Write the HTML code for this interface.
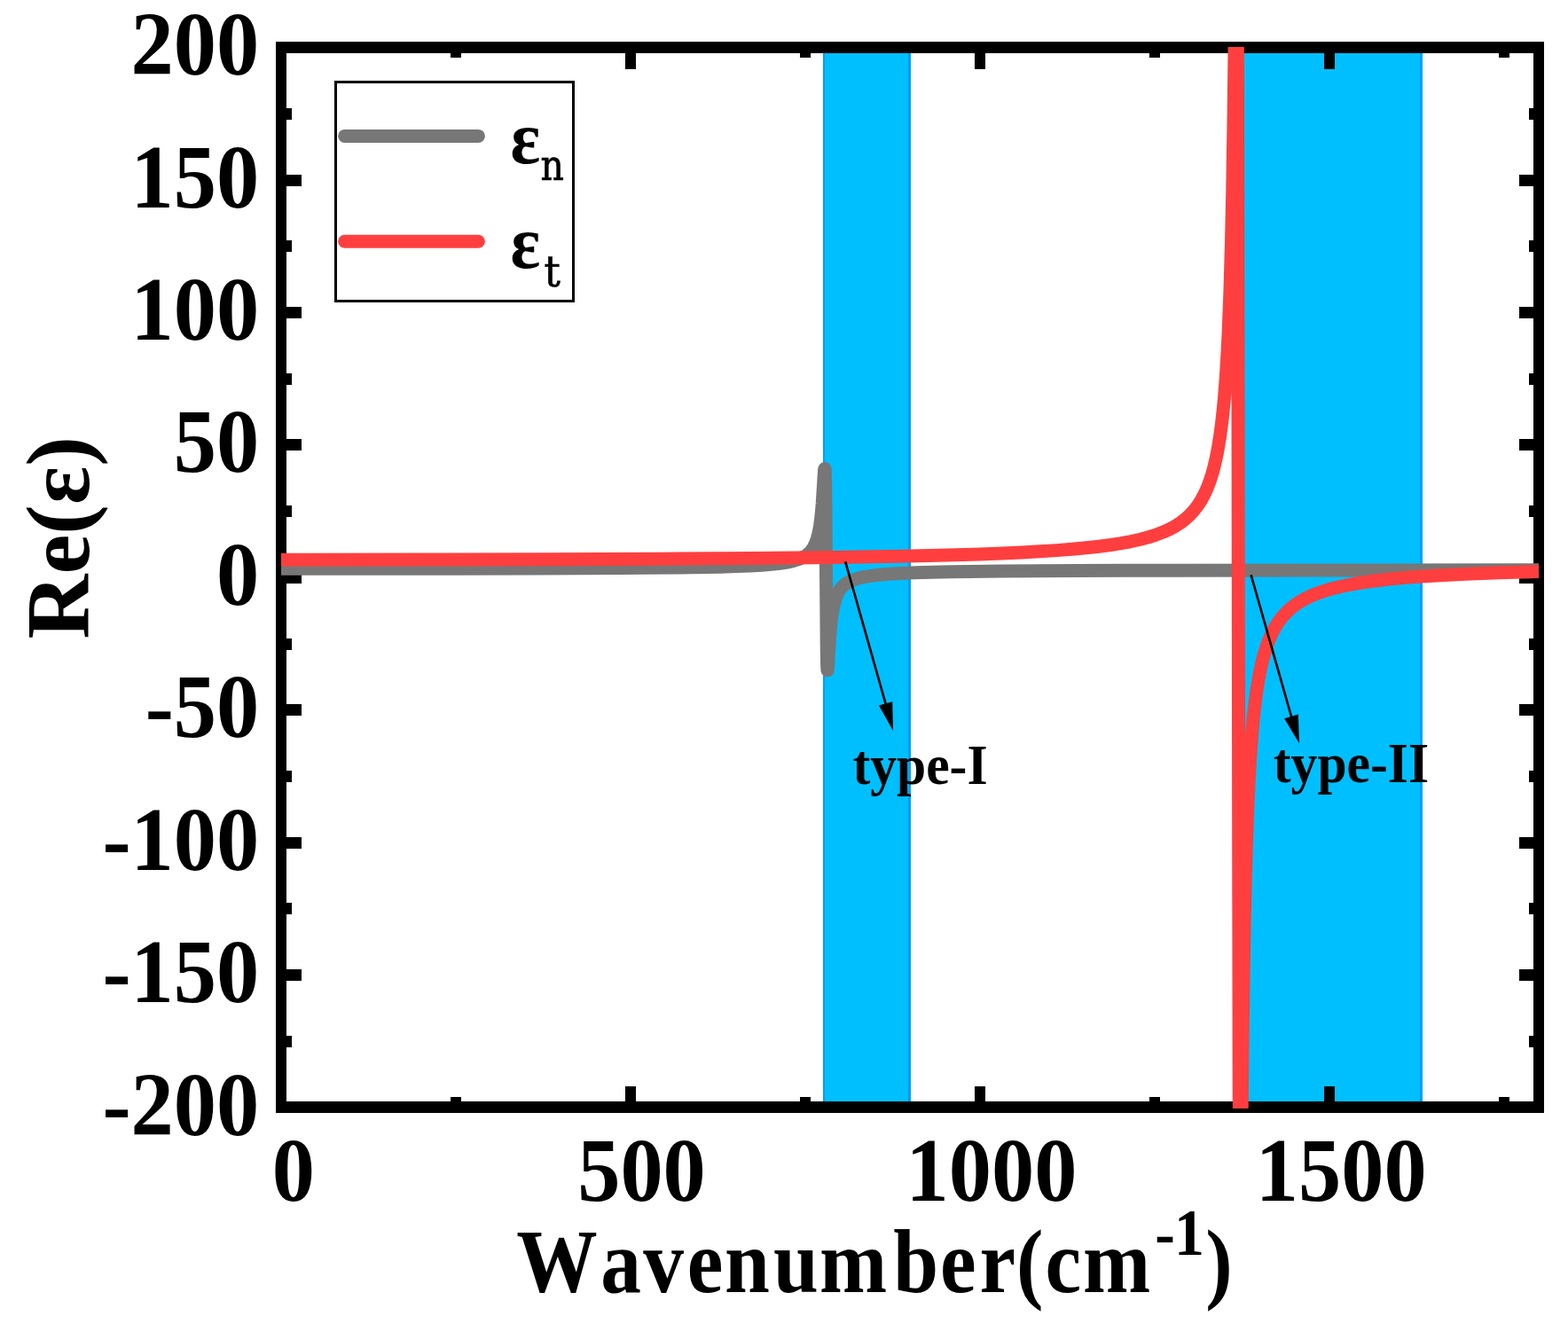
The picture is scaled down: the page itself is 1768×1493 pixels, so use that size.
<!DOCTYPE html>
<html><head><meta charset="utf-8"><title>Re(ε) vs Wavenumber</title>
<style>html,body{margin:0;padding:0;background:#fff;}body{width:1768px;height:1493px;overflow:hidden;}svg{display:block;}</style>
</head><body><svg width="1768" height="1493" viewBox="0 0 1768 1493" font-family="'Liberation Serif','Times New Roman',serif"><rect x="928" y="60" width="99" height="1182" fill="#00BFFF"/><rect x="928" y="60" width="2" height="1182" fill="#009EFF"/><rect x="1024" y="60" width="3" height="1182" fill="#009EFF"/><rect x="1394" y="60" width="210" height="1182" fill="#00BFFF"/><rect x="1394" y="60" width="2" height="1182" fill="#009EFF"/><rect x="1601" y="60" width="3" height="1182" fill="#009EFF"/><rect x="311" y="47" width="1430" height="13" fill="#000"/><rect x="311" y="1242" width="1430" height="13" fill="#000"/><rect x="311" y="47" width="12" height="1208" fill="#000"/><rect x="1729" y="47" width="12" height="1208" fill="#000"/><rect x="508" y="1237" width="12" height="5" fill="#000"/><rect x="508" y="60" width="12" height="5" fill="#000"/><rect x="705" y="1225" width="12" height="17" fill="#000"/><rect x="705" y="60" width="12" height="18" fill="#000"/><rect x="902" y="1237" width="12" height="5" fill="#000"/><rect x="902" y="60" width="12" height="5" fill="#000"/><rect x="1099" y="1225" width="12" height="17" fill="#000"/><rect x="1099" y="60" width="12" height="18" fill="#000"/><rect x="1296" y="1237" width="12" height="5" fill="#000"/><rect x="1296" y="60" width="12" height="5" fill="#000"/><rect x="1493" y="1225" width="12" height="17" fill="#000"/><rect x="1493" y="60" width="12" height="18" fill="#000"/><rect x="1690" y="1237" width="12" height="5" fill="#000"/><rect x="1690" y="60" width="12" height="5" fill="#000"/><rect x="323" y="1168" width="6" height="13" fill="#000"/><rect x="1724" y="1168" width="5" height="13" fill="#000"/><rect x="323" y="1093" width="17" height="13" fill="#000"/><rect x="1713" y="1093" width="16" height="13" fill="#000"/><rect x="323" y="1018" width="6" height="13" fill="#000"/><rect x="1724" y="1018" width="5" height="13" fill="#000"/><rect x="323" y="944" width="17" height="13" fill="#000"/><rect x="1713" y="944" width="16" height="13" fill="#000"/><rect x="323" y="869" width="6" height="13" fill="#000"/><rect x="1724" y="869" width="5" height="13" fill="#000"/><rect x="323" y="794" width="17" height="13" fill="#000"/><rect x="1713" y="794" width="16" height="13" fill="#000"/><rect x="323" y="720" width="6" height="13" fill="#000"/><rect x="1724" y="720" width="5" height="13" fill="#000"/><rect x="323" y="645" width="17" height="13" fill="#000"/><rect x="1713" y="645" width="16" height="13" fill="#000"/><rect x="323" y="570" width="6" height="13" fill="#000"/><rect x="1724" y="570" width="5" height="13" fill="#000"/><rect x="323" y="495" width="17" height="13" fill="#000"/><rect x="1713" y="495" width="16" height="13" fill="#000"/><rect x="323" y="421" width="6" height="13" fill="#000"/><rect x="1724" y="421" width="5" height="13" fill="#000"/><rect x="323" y="346" width="17" height="13" fill="#000"/><rect x="1713" y="346" width="16" height="13" fill="#000"/><rect x="323" y="271" width="6" height="13" fill="#000"/><rect x="1724" y="271" width="5" height="13" fill="#000"/><rect x="323" y="197" width="17" height="13" fill="#000"/><rect x="1713" y="197" width="16" height="13" fill="#000"/><rect x="323" y="122" width="6" height="13" fill="#000"/><rect x="1724" y="122" width="5" height="13" fill="#000"/><defs><clipPath id="pc"><rect x="317.0" y="53.0" width="1419.0" height="1197.0"/></clipPath></defs><g clip-path="url(#pc)" fill="none" stroke-width="15" stroke-linejoin="round" stroke-linecap="butt"><path d="M317.00,641.32 L478.85,641.23 L607.30,640.98 L699.56,640.58 L765.85,639.98 L812.53,639.15 L830.68,638.61 L846.09,637.98 L859.12,637.22 L870.19,636.33 L879.57,635.28 L887.49,634.05 L894.14,632.60 L899.81,630.90 L904.62,628.89 L906.75,627.76 L908.72,626.52 L910.53,625.18 L912.18,623.74 L913.72,622.17 L915.14,620.46 L916.44,618.63 L917.66,616.60 L919.82,612.00 L921.60,606.83 L923.09,600.92 L924.43,593.77 L925.58,585.54 L926.44,577.41 L927.23,568.08 L929.36,533.36 L929.67,529.54 L929.91,528.46 L930.18,530.56 L930.42,536.79 L930.81,560.48 L932.23,730.50 L932.63,750.35 L932.82,754.47 L933.06,755.93 L933.30,754.81 L933.61,750.96 L934.95,727.85 L935.82,715.22 L936.68,705.31 L937.63,696.90 L938.89,688.48 L940.31,681.55 L942.00,675.52 L943.97,670.44 L945.11,668.14 L946.37,666.00 L947.75,664.02 L949.25,662.21 L950.86,660.57 L952.64,659.05 L954.57,657.65 L956.65,656.38 L958.94,655.21 L961.42,654.14 L967.05,652.26 L973.79,650.66 L981.75,649.33 L991.24,648.20 L1002.54,647.25 L1015.98,646.45 L1031.93,645.78 L1050.91,645.22 L1073.45,644.75 L1132.10,644.02 L1214.86,643.51 L1331.96,643.16 L1735.04,642.75" stroke="#777777"/><path d="M317.00,631.20 L473.34,631.08 L617.90,630.73 L743.79,630.17 L851.21,629.40 L939.95,628.43 L1014.56,627.22 L1077.07,625.74 L1104.41,624.89 L1129.38,623.95 L1151.87,622.94 L1172.47,621.83 L1191.34,620.61 L1208.59,619.28 L1224.43,617.83 L1238.92,616.23 L1252.20,614.49 L1264.33,612.59 L1275.44,610.52 L1285.64,608.24 L1294.97,605.76 L1303.52,603.05 L1311.36,600.08 L1318.53,596.84 L1325.11,593.30 L1331.10,589.45 L1336.57,585.26 L1341.57,580.69 L1346.14,575.73 L1350.36,570.28 L1354.22,564.34 L1357.72,557.92 L1360.95,550.89 L1363.95,543.13 L1366.66,534.74 L1369.15,525.64 L1371.43,515.68 L1373.56,504.64 L1375.49,492.71 L1377.26,479.70 L1378.88,465.61 L1380.37,450.10 L1381.67,434.19 L1382.89,416.59 L1384.04,397.17 L1385.06,376.68 L1386.91,329.56 L1388.53,272.94 L1389.75,215.63 L1390.85,148.55 L1391.91,66.17 L1393.65,-93.15 L1394.00,-116.22 L1394.32,-124.42 L1394.51,-120.15 L1394.67,-109.54 L1394.95,-70.87 L1395.46,93.67 L1396.76,981.36 L1397.23,1228.87 L1397.70,1356.20 L1397.98,1386.70 L1398.26,1395.14 L1398.53,1388.59 L1398.85,1369.59 L1401.13,1165.33 L1402.00,1103.55 L1402.94,1048.66 L1404.05,997.63 L1405.27,953.26 L1406.61,915.12 L1408.14,880.97 L1409.99,849.25 L1412.08,821.92 L1413.22,809.69 L1414.48,797.91 L1415.78,787.30 L1417.20,777.19 L1418.74,767.64 L1420.35,758.89 L1422.09,750.69 L1423.94,743.06 L1425.91,735.96 L1428.03,729.28 L1430.32,723.02 L1432.76,717.19 L1435.40,711.70 L1438.24,706.57 L1441.27,701.79 L1444.50,697.36 L1447.97,693.22 L1451.71,689.32 L1455.73,685.69 L1460.02,682.31 L1464.63,679.16 L1469.55,676.22 L1474.83,673.49 L1480.50,670.93 L1486.57,668.55 L1493.11,666.32 L1500.08,664.25 L1507.56,662.31 L1515.60,660.51 L1524.19,658.83 L1533.40,657.26 L1543.29,655.80 L1553.89,654.44 L1565.23,653.17 L1590.44,650.89 L1619.43,648.90 L1652.75,647.18 L1691.04,645.68 L1735.04,644.38" stroke="#FF3F3F"/></g><rect x="378.5" y="92.5" width="268" height="247" fill="none" stroke="#000" stroke-width="3"/><path d="M388.6,153.4 H539.4" stroke="#777777" stroke-width="15" stroke-linecap="round"/><path d="M388.6,272.3 H539.4" stroke="#FF3F3F" stroke-width="15" stroke-linecap="round"/><text transform="translate(575.5,184) scale(0.93,1)" font-size="85" font-weight="bold">ε<tspan x="36.56" y="19" font-size="49" font-weight="normal" font-family="'DejaVu Serif Condensed','DejaVu Serif',serif" stroke="#000" stroke-width="0.7">n</tspan></text><text transform="translate(575.5,301.6) scale(0.93,1)" font-size="85" font-weight="bold">ε<tspan x="40.75" y="21" font-size="49" font-weight="normal" font-family="'DejaVu Serif',serif" stroke="#000" stroke-width="0.7">t</tspan></text><path d="M953.2,633.3 L999.39,796.29" stroke="#000" stroke-width="2.6"/><path d="M1007.0,824.0 L990.98,795.49 L1006.22,791.31 Z" fill="#000"/><path d="M1410.6,648.3 L1456.85,810.78" stroke="#000" stroke-width="2.6"/><path d="M1465.0,838.2 L1448.14,810.23 L1463.86,805.57 Z" fill="#000"/><text transform="translate(961.50,884.00) scale(0.945,1)" font-size="63" font-weight="bold" text-anchor="start" >type-I</text><text transform="translate(1435.80,881.70) scale(0.945,1)" font-size="63" font-weight="bold" text-anchor="start" >type-II</text><text transform="translate(292.30,1279.60) scale(0.955,1)" font-size="101" font-weight="bold" text-anchor="end" >-200</text><text transform="translate(292.30,1130.17) scale(0.955,1)" font-size="101" font-weight="bold" text-anchor="end" >-150</text><text transform="translate(292.30,980.75) scale(0.955,1)" font-size="101" font-weight="bold" text-anchor="end" >-100</text><text transform="translate(292.30,831.32) scale(0.955,1)" font-size="101" font-weight="bold" text-anchor="end" >-50</text><text transform="translate(292.30,681.90) scale(0.955,1)" font-size="101" font-weight="bold" text-anchor="end" >0</text><text transform="translate(292.30,532.47) scale(0.955,1)" font-size="101" font-weight="bold" text-anchor="end" >50</text><text transform="translate(292.30,383.05) scale(0.955,1)" font-size="101" font-weight="bold" text-anchor="end" >100</text><text transform="translate(292.30,233.62) scale(0.955,1)" font-size="101" font-weight="bold" text-anchor="end" >150</text><text transform="translate(292.30,84.20) scale(0.955,1)" font-size="101" font-weight="bold" text-anchor="end" >200</text><text transform="translate(330.80,1354.00) scale(0.955,1)" font-size="101" font-weight="bold" text-anchor="middle" >0</text><text transform="translate(723.50,1354.00) scale(0.955,1)" font-size="101" font-weight="bold" text-anchor="middle" >500</text><text transform="translate(1118.00,1354.00) scale(0.955,1)" font-size="101" font-weight="bold" text-anchor="middle" >1000</text><text transform="translate(1512.30,1354.00) scale(0.955,1)" font-size="101" font-weight="bold" text-anchor="middle" >1500</text><text transform="scale(0.905,1)" font-size="101" font-weight="bold"><tspan x="643.44 748.47 801.49 856.06 902.65 963.67 1021.03 1113.10 1171.20 1220.41 1266.29 1302.20 1349.21" y="1457.5">Wavenumber(cm</tspan><tspan x="1438.89 1463.06" y="1415" font-size="75">-1</tspan><tspan x="1501.84" y="1457.5">)</tspan></text><text transform="translate(99.8,606.3) rotate(-90)" font-size="101" font-weight="bold" text-anchor="middle">Re(ε)</text></svg></body></html>
